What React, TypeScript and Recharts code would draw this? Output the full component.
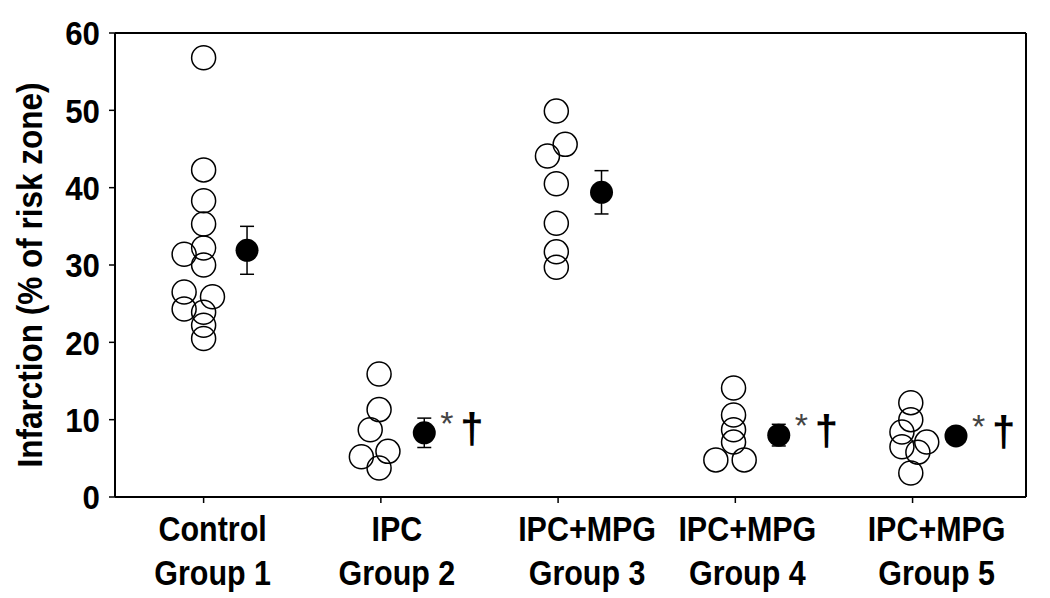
import { ScatterChart, Scatter, XAxis, YAxis, ErrorBar, ReferenceLine } from "recharts";

const GROUP_TICKS = [1, 2, 3, 4, 5];
const GROUP_NAMES = ["Control", "IPC", "IPC+MPG", "IPC+MPG", "IPC+MPG"];
const GROUP_LABELS = ["Group 1", "Group 2", "Group 3", "Group 4", "Group 5"];
const Y_TICKS = [0, 10, 20, 30, 40, 50, 60];

// individual hearts (x = group number + small jitter)
const group1 = [
  { x: 1.0, y: 56.8 }, { x: 1.0, y: 42.3 }, { x: 1.0, y: 38.3 }, { x: 1.0, y: 35.3 },
  { x: 1.0, y: 32.2 }, { x: 0.89, y: 31.4 }, { x: 1.0, y: 30.0 }, { x: 0.89, y: 26.5 },
  { x: 1.05, y: 25.9 }, { x: 0.89, y: 24.3 }, { x: 1.0, y: 23.9 }, { x: 1.0, y: 22.2 },
  { x: 1.0, y: 20.5 },
];
const group2 = [
  { x: 1.99, y: 15.9 }, { x: 1.99, y: 11.3 }, { x: 1.94, y: 8.7 },
  { x: 1.89, y: 5.2 }, { x: 2.04, y: 5.9 }, { x: 1.99, y: 3.75 },
];
const group3 = [
  { x: 2.99, y: 49.9 }, { x: 3.04, y: 45.6 }, { x: 2.94, y: 44.1 }, { x: 2.99, y: 40.5 },
  { x: 2.99, y: 35.4 }, { x: 2.99, y: 31.7 }, { x: 2.99, y: 29.7 },
];
const group4 = [
  { x: 3.99, y: 14.1 }, { x: 3.99, y: 10.6 }, { x: 3.99, y: 8.7 },
  { x: 3.99, y: 7.1 }, { x: 3.89, y: 4.8 }, { x: 4.05, y: 4.8 },
];
const group5 = [
  { x: 4.99, y: 12.2 }, { x: 4.99, y: 10.0 }, { x: 4.94, y: 8.4 }, { x: 4.94, y: 6.5 },
  { x: 5.08, y: 7.1 }, { x: 5.03, y: 5.8 }, { x: 4.99, y: 3.1 },
];

// mean ± SEM, drawn beside each group
const MEAN_VALUES = [31.9, 8.3, 39.4, 8.0, 7.9];
const SEM_VALUES = [3.1, 1.9, 2.8, 1.4, 0.7];
const SIGNIFICANT = [false, true, false, true, true];
const MEAN_SHIFT = 0.245;

const means = GROUP_TICKS.map((g, i) => ({
  x: g + MEAN_SHIFT,
  y: MEAN_VALUES[i],
  err: SEM_VALUES[i],
  sig: SIGNIFICANT[i],
}));

const allPoints = [...group1, ...group2, ...group3, ...group4, ...group5];

const FONT = "'Liberation Sans', Arial, sans-serif";
const LABEL_SHIFT = [9, 16, 29, 12, 24];

const OpenCircle = (props: any) => (
  <circle cx={props.cx} cy={props.cy} r={12} fill="none" stroke="#000" strokeWidth={1.5} />
);

const MeanDot = (props: any) => {
  const { cx, cy, payload } = props;
  return (
    <g>
      <circle cx={cx} cy={cy} r={11.5} fill="#000" />
      {payload.sig && (
        <>
          <text x={cx + 16} y={cy + 2} fontSize={34} fill="#444" fontFamily={FONT}>*</text>
          <text x={cx + 36} y={cy + 10} fontSize={42} fontWeight="bold" fill="#000" fontFamily={FONT}>†</text>
        </>
      )}
    </g>
  );
};

const GroupTick = (props: any) => {
  const { x, y, payload } = props;
  const i = GROUP_TICKS.indexOf(payload.value);
  const cx = x + (LABEL_SHIFT[i] ?? 0);
  const style = { fontSize: 35, fontWeight: "bold", fontFamily: FONT, fill: "#000" } as any;
  return (
    <g transform={`translate(${cx},${y}) scale(0.87,1)`}>
      <text x={0} y={36} textAnchor="middle" style={style}>
        {GROUP_NAMES[i]}
      </text>
      <text x={0} y={80} textAnchor="middle" style={style}>
        {GROUP_LABELS[i]}
      </text>
    </g>
  );
};

const ValueTick = (props: any) => {
  const { x, y, payload } = props;
  return (
    <g transform={`translate(${x},${y}) scale(0.92,1)`}>
      <text x={0} y={0} dy="0.36em" textAnchor="end" fontSize={34} fontWeight="bold" fontFamily={FONT} fill="#000">
        {payload.value}
      </text>
    </g>
  );
};

const YTitle = (props: any) => {
  const vb = props.viewBox || { x: 0, y: 33, width: 115, height: 464 };
  const cx = 30;
  const cy = vb.y + vb.height / 2 + 10;
  return (
    <g transform={`translate(${cx},${cy}) rotate(-90) scale(0.9,1)`}>
      <text
        x={0}
        y={0}
        textAnchor="middle"
        dominantBaseline="central"
        fontSize={35}
        fontWeight="bold"
        fontFamily={FONT}
        fill="#000"
      >
        Infarction (% of risk zone)
      </text>
    </g>
  );
};

export default function App() {
  return (
    <div style={{ position: "absolute", left: 0, top: 0, background: "#fff" }}>
      <ScatterChart width={1050} height={598} margin={{ top: 33, right: 24, bottom: 0, left: 0 }}>
        <XAxis
          type="number"
          dataKey="x"
          domain={[0.5, 5.64]}
          ticks={GROUP_TICKS}
          tick={<GroupTick />}
          tickSize={6}
          tickMargin={2}
          height={101}
          axisLine={{ stroke: "#000", strokeWidth: 2 }}
          tickLine={{ stroke: "#000", strokeWidth: 1.5 }}
          allowDataOverflow
        />
        <YAxis
          type="number"
          dataKey="y"
          domain={[0, 60]}
          ticks={Y_TICKS}
          width={115}
          tickSize={6}
          tickMargin={9}
          axisLine={{ stroke: "#000", strokeWidth: 2 }}
          tickLine={{ stroke: "#000", strokeWidth: 1.5 }}
          tick={<ValueTick />}
          label={(p: any) => <YTitle {...p} />}
          allowDataOverflow
        />
        <ReferenceLine y={60} stroke="#000" strokeWidth={2} />
        <ReferenceLine x={5.64} stroke="#000" strokeWidth={2} />
        <Scatter data={allPoints} shape={OpenCircle} isAnimationActive={false} />
        <Scatter data={means} shape={MeanDot} isAnimationActive={false}>
          <ErrorBar dataKey="err" direction="y" width={7} stroke="#000" strokeWidth={1.5} />
        </Scatter>
      </ScatterChart>
    </div>
  );
}
